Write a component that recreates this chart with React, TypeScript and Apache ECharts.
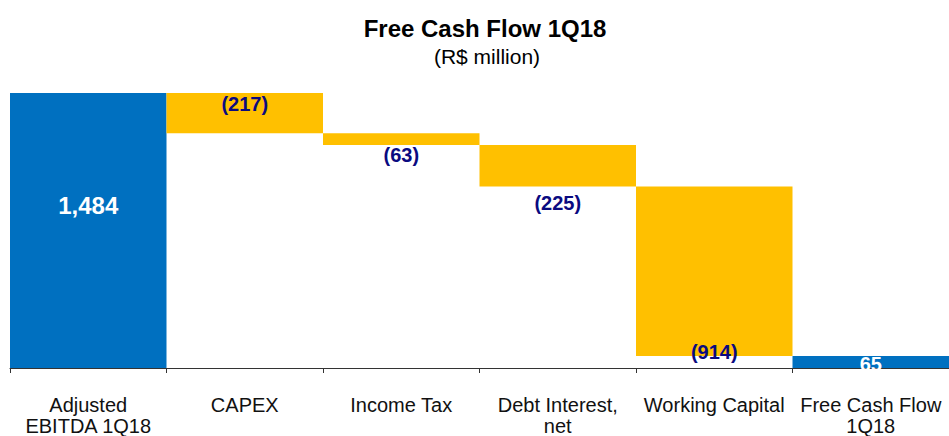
import React, { useEffect, useRef } from "react";
import * as echarts from "echarts";

const categories = [
  "Adjusted\nEBITDA 1Q18",
  "CAPEX",
  "Income Tax",
  "Debt Interest,\nnet",
  "Working Capital",
  "Free Cash Flow\n1Q18",
];
const values = [1484, -217, -63, -225, -914, 65];
const isTotal = [true, false, false, false, false, true];

const FONT = 'Arial, "Liberation Sans", Helvetica, sans-serif';
const BLUE = "#0070C0";
const YELLOW = "#FFC000";
const NAVY = "#0A0A80";

const labelStyles: any[] = [
  { position: "inside", offset: [0, -25], color: "#ffffff" },
  { position: "insideTop", distance: 1, color: NAVY },
  { position: "bottom", distance: 0, color: NAVY },
  { position: "bottom", distance: 6, color: NAVY },
  { position: "insideBottom", distance: -6, color: NAVY },
  { position: "inside", offset: [0, 2], color: "#ffffff" },
];

export default function App() {
  const ref = useRef<HTMLDivElement>(null);
  useEffect(() => {
    if (!ref.current) return;
    const chart = echarts.init(ref.current, undefined, { renderer: "svg" });

    const bases: number[] = [];
    const heights: number[] = [];
    let running = 0;
    values.forEach((v, i) => {
      if (isTotal[i]) {
        bases.push(0);
        heights.push(v);
        running = v;
      } else {
        running += v;
        bases.push(v < 0 ? running : running - v);
        heights.push(Math.abs(v));
      }
    });

    const fmt = (v: number) =>
      v < 0 ? `(${Math.abs(v).toLocaleString("en-US")})` : v.toLocaleString("en-US");

    chart.setOption({
      animation: false,
      title: [
        {
          text: "Free Cash Flow 1Q18",
          left: 480,
          textAlign: "center",
          top: 11,
          textStyle: { fontFamily: FONT, fontSize: 24, fontWeight: "bold", color: "#000" },
        },
        {
          text: "(R$ million)",
          left: 482,
          textAlign: "center",
          top: 41,
          textStyle: { fontFamily: FONT, fontSize: 21, fontWeight: "normal", color: "#000" },
        },
      ],
      grid: { left: 10, width: 945, top: 93, bottom: 68, containLabel: false },
      xAxis: {
        type: "category",
        data: categories,
        axisLine: { lineStyle: { color: "#333", width: 1 } },
        axisTick: { show: true, length: 5, lineStyle: { color: "#333" } },
        axisLabel: {
          margin: 26,
          interval: 0,
          fontFamily: FONT,
          fontSize: 20,
          lineHeight: 21,
          color: "#111",
        },
      },
      yAxis: {
        type: "value",
        min: 0,
        max: 1484,
        show: false,
        splitLine: { show: false },
      },
      series: [
        {
          type: "bar",
          stack: "wf",
          silent: true,
          itemStyle: { color: "transparent" },
          data: bases,
          barCategoryGap: "0%",
        },
        {
          type: "bar",
          stack: "wf",
          barCategoryGap: "0%",
          data: heights.map((h, i) => ({
            value: h,
            itemStyle: { color: isTotal[i] ? BLUE : YELLOW },
            label: {
              show: true,
              fontFamily: FONT,
              fontWeight: "bold",
              fontSize: i === 0 ? 24 : 20,
              formatter: () => fmt(values[i]),
              ...labelStyles[i],
            },
          })),
        },
      ],
    });
    return () => chart.dispose();
  }, []);
  return (
    <div
      ref={ref}
      style={{ position: "fixed", left: 0, top: 0, width: 949, height: 436, background: "#fff" }}
    />
  );
}
